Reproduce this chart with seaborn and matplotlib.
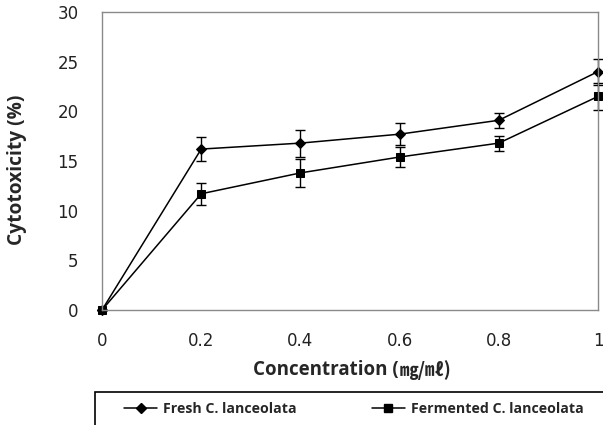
import matplotlib
matplotlib.use("Agg")
import matplotlib.pyplot as plt
import seaborn as sns
import pandas as pd
from matplotlib.patches import Rectangle
from matplotlib.lines import Line2D

concentration = [0, 0.2, 0.4, 0.6, 0.8, 1.0]
fresh = [0, 16.2, 16.8, 17.7, 19.1, 24.0]
fresh_err = [0, 1.2, 1.35, 1.1, 0.75, 1.3]
fermented = [0, 11.7, 13.8, 15.4, 16.8, 21.5]
fermented_err = [0, 1.1, 1.4, 1.0, 0.75, 1.4]
series_names = ["Fresh C. lanceolata", "Fermented C. lanceolata"]
xticks = [0, 0.2, 0.4, 0.6, 0.8, 1]
yticks = [0, 5, 10, 15, 20, 25, 30]

sns.set_style("white")
plt.rcParams['font.family'] = ['DejaVu Sans']

fig = plt.figure(figsize=(6.03, 4.25), dpi=100)
W, H = 603, 425
ax = fig.add_axes([102 / W, 1 - 310 / H, (598 - 102) / W, (310 - 12) / H])

df = pd.DataFrame({
    "x": concentration * 2,
    "y": fresh + fermented,
    "s": [series_names[0]] * 6 + [series_names[1]] * 6,
})
sns.lineplot(data=df, x="x", y="y", hue="s", style="s",
             palette=["black", "black"], markers=["D", "s"], dashes=False,
             markersize=6, linewidth=1.1, ax=ax, legend=False, clip_on=False,
             markeredgecolor="black")
for ln in ax.lines[:1]:
    ln.set_markersize(5.5)

ax.errorbar(concentration, fresh, yerr=fresh_err, fmt="none", ecolor="black",
            elinewidth=1.0, capsize=3.8, capthick=1.0, clip_on=False)
ax.errorbar(concentration, fermented, yerr=fermented_err, fmt="none", ecolor="black",
            elinewidth=1.0, capsize=3.8, capthick=1.0, clip_on=False)

ax.set_xlim(0, 1)
ax.set_ylim(0, 30)
ax.set_xticks(xticks)
ax.set_xticklabels(["0", "0.2", "0.4", "0.6", "0.8", "1"])
ax.set_yticks(yticks)
ax.tick_params(axis="both", length=0, labelsize=12, colors="#222222")
ax.tick_params(axis="x", pad=15.5)
ax.tick_params(axis="y", pad=17)
for sp in ax.spines.values():
    sp.set_color("#8a8a8a")
    sp.set_linewidth(1.0)
ax.set_xlabel("")
ax.set_ylabel("")

fig.text(399 / W, 1 - 370 / H, "Concentration (", fontsize=13.5, fontweight="bold",
         family=["Open Sans", "DejaVu Sans"], ha="right", va="center")
fig.text(400 / W, 1 - 370 / H, "㎎/㎖)", fontsize=13.5, fontweight="bold",
         family=["Noto Sans CJK KR", "DejaVu Sans"], ha="left", va="center")
fig.text(17 / W, 1 - 170 / H, "Cytotoxicity (%)", fontsize=13.8, fontweight="bold",
         family=["Open Sans", "DejaVu Sans"], rotation=90, ha="center", va="center")

fig.patches.append(Rectangle((95 / W, -0.1), 1.0, (0.1 + 1 - 392 / H),
                             transform=fig.transFigure, fill=False,
                             edgecolor="black", linewidth=1.2))

handles = [Line2D([], [], color="black", marker="D", markersize=5, linewidth=1.1),
           Line2D([], [], color="black", marker="s", markersize=6, linewidth=1.1)]
fig.legend(handles, series_names, loc="center", bbox_to_anchor=(354 / W, 1 - 409 / H),
           ncol=2, frameon=False, handlelength=2.3, handletextpad=0.45, columnspacing=5.3,
           prop={"family": ["Open Sans", "DejaVu Sans"], "weight": "bold", "size": 10.2})

fig.savefig("out.png", dpi=100)
